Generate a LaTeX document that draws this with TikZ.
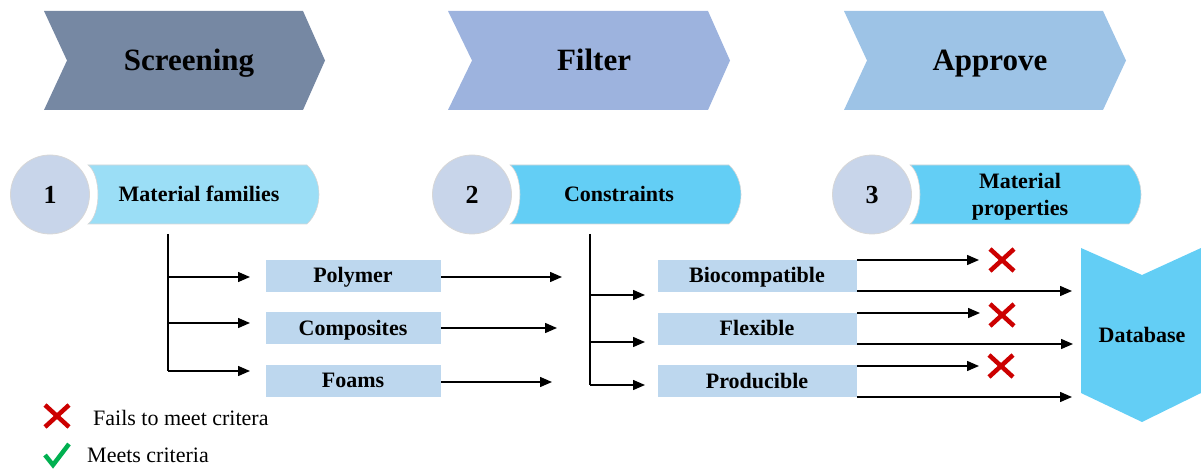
\documentclass[tikz,border=0pt]{standalone}
\usepackage{fontspec}
\setmainfont{Liberation Serif}
\usetikzlibrary{arrows.meta}

\definecolor{cScreen}{RGB}{118,136,163}
\definecolor{cFilter}{RGB}{157,179,222}
\definecolor{cApprove}{RGB}{157,195,230}
\definecolor{cCircle}{RGB}{200,213,234}
\definecolor{cBannerA}{RGB}{155,222,246}
\definecolor{cBannerB}{RGB}{99,206,245}
\definecolor{cBox}{RGB}{189,215,238}
\definecolor{cEdge}{RGB}{215,215,215}
\definecolor{cCross}{RGB}{204,0,0}
\definecolor{cTick}{RGB}{0,176,80}

\tikzset{
  stagetxt/.style={font=\fontsize{31}{36}\selectfont\bfseries,
    text height=22pt, text depth=1.5pt},
  twolinetxt/.style={font=\fontsize{22}{27}\selectfont\bfseries, align=center},
  labeltxt/.style={twolinetxt, text height=16pt, text depth=1.4pt},
  numtxt/.style={font=\fontsize{26}{30}\selectfont\bfseries,
    text height=19pt, text depth=1.4pt},
  numdisc/.style={circle, fill=cCircle, draw=cEdge, line width=0.8pt,
    minimum size=79pt, inner sep=0pt, numtxt},
  itembox/.style={rectangle, fill=cBox, draw=white, line width=0.6pt,
    minimum width=176pt, minimum height=33pt, inner sep=0pt, labeltxt},
  itemboxw/.style={itembox, minimum width=200pt},
  arr/.style={line width=1.4pt, -{Triangle[length=12pt,width=10pt]}},
  trunk/.style={line width=1.4pt},
  cross/.style={cCross, line width=4.5pt},
  legendtxt/.style={font=\fontsize{22}{26}\selectfont, anchor=west, inner sep=0pt,
    text height=16pt, text depth=1.4pt},
}

\begin{document}
\begin{tikzpicture}[x=1pt, y=-1pt]
\useasboundingbox (0,0) rectangle (1201,470);

% ---- stage chevrons ----
\fill[cScreen]  (44,11) -- (303,11) -- (325,60.5) -- (303,110) -- (44,110) -- (67,60.5) -- cycle;
\fill[cFilter]  (448,11) -- (708,11) -- (730,60.5) -- (708,110) -- (448,110) -- (472,60.5) -- cycle;
\fill[cApprove] (844,11) -- (1103,11) -- (1126,60.5) -- (1103,110) -- (844,110) -- (867,60.5) -- cycle;
\node[stagetxt] (screening) at (189,60) {Screening};
\node[stagetxt] (filter)    at (594,60) {Filter};
\node[stagetxt] (approve)   at (990,60) {Approve};

% ---- numbered banners ----
\foreach \cx/\col in {50/cBannerA, 472/cBannerB, 872/cBannerB}{
  \path[fill=\col, draw=cEdge, line width=0.6pt]
    (\cx+38,165) -- (\cx+257,165)
    .. controls (\cx+273,180) and (\cx+273,209) .. (\cx+257,224)
    -- (\cx+38,224)
    .. controls (\cx+51.3,214) and (\cx+51.3,175) .. (\cx+38,165) -- cycle;
}
\node[numdisc] (n1) at (50,194.5)  {1};
\node[numdisc] (n2) at (472,194.5) {2};
\node[numdisc] (n3) at (872,194.5) {3};
\node[labeltxt] (families)    at (199,194.5)  {Material families};
\node[labeltxt] (constraints) at (619,194.5)  {Constraints};
\node[twolinetxt] (properties)  at (1020,196.5) {Material\\properties};

% ---- material families ----
\node[itembox] (poly) at (353,275.5) {Polymer};
\node[itembox] (comp) at (353,328)   {Composites};
\node[itembox] (foam) at (353,380.5) {Foams};

\coordinate (t1top) at (168,234);
\coordinate (t1bot) at (168,371);
\coordinate (t1a) at (168,277);
\coordinate (t1b) at (168,323);
\coordinate (e1a) at (250,277);
\coordinate (e1b) at (250,323);
\coordinate (e1c) at (250,371);
\draw[trunk] (t1top) -- (t1bot);
\draw[arr] (t1a) -- (e1a);
\draw[arr] (t1b) -- (e1b);
\draw[arr] (t1bot) -- (e1c);

\coordinate (o1a) at (562,277);
\coordinate (o1b) at (557,328);
\coordinate (o1c) at (552,382);
\draw[arr] (poly.east |- o1a) -- (o1a);
\draw[arr] (comp.east |- o1b) -- (o1b);
\draw[arr] (foam.east |- o1c) -- (o1c);

% ---- constraints ----
\node[itemboxw] (bio)  at (757,275.5) {Biocompatible};
\node[itemboxw] (flex) at (757,328.5) {Flexible};
\node[itemboxw] (prod) at (757,381)   {Producible};

\coordinate (t2top) at (590,234);
\coordinate (t2bot) at (590,385);
\coordinate (t2a) at (590,295);
\coordinate (t2b) at (590,342);
\coordinate (e2a) at (645,295);
\coordinate (e2b) at (645,342);
\coordinate (e2c) at (645,385);
\draw[trunk] (t2top) -- (t2bot);
\draw[arr] (t2a) -- (e2a);
\draw[arr] (t2b) -- (e2b);
\draw[arr] (t2bot) -- (e2c);

% ---- database ----
\fill[cBannerB] (1081,248) -- (1142,275) -- (1201,248) -- (1201,393) -- (1142,422) -- (1081,393) -- cycle;
\node[labeltxt] (database) at (1142,335) {Database};

% rejected and passed outputs
\coordinate (r1) at (979,260);
\coordinate (r2) at (980,313);
\coordinate (r3) at (979,366);
\coordinate (p1) at (1072,291);
\coordinate (p2) at (1073,344);
\coordinate (p3) at (1072,397);
\draw[arr] (bio.east |- r1) -- (r1);
\draw[arr] (bio.east |- p1) -- (p1);
\draw[arr] (flex.east |- r2) -- (r2);
\draw[arr] (flex.east |- p2) -- (p2);
\draw[arr] (prod.east |- r3) -- (r3);
\draw[arr] (prod.east |- p3) -- (p3);

% red crosses
\foreach \x/\y in {1002/260, 1002/315, 1001/366, 57/416}{
  \draw[cross] (\x-12,\y-11) -- (\x+12,\y+11);
  \draw[cross] (\x-12,\y+11) -- (\x+12,\y-11);
}

% ---- legend ----
\draw[cTick, line width=4.5pt] (45,455) -- (53,465) -- (69,444);
\node[legendtxt] (fails) at (93,418) {Fails to meet critera};
\node[legendtxt] (meets) at (87,455) {Meets criteria};
\end{tikzpicture}
\end{document}
